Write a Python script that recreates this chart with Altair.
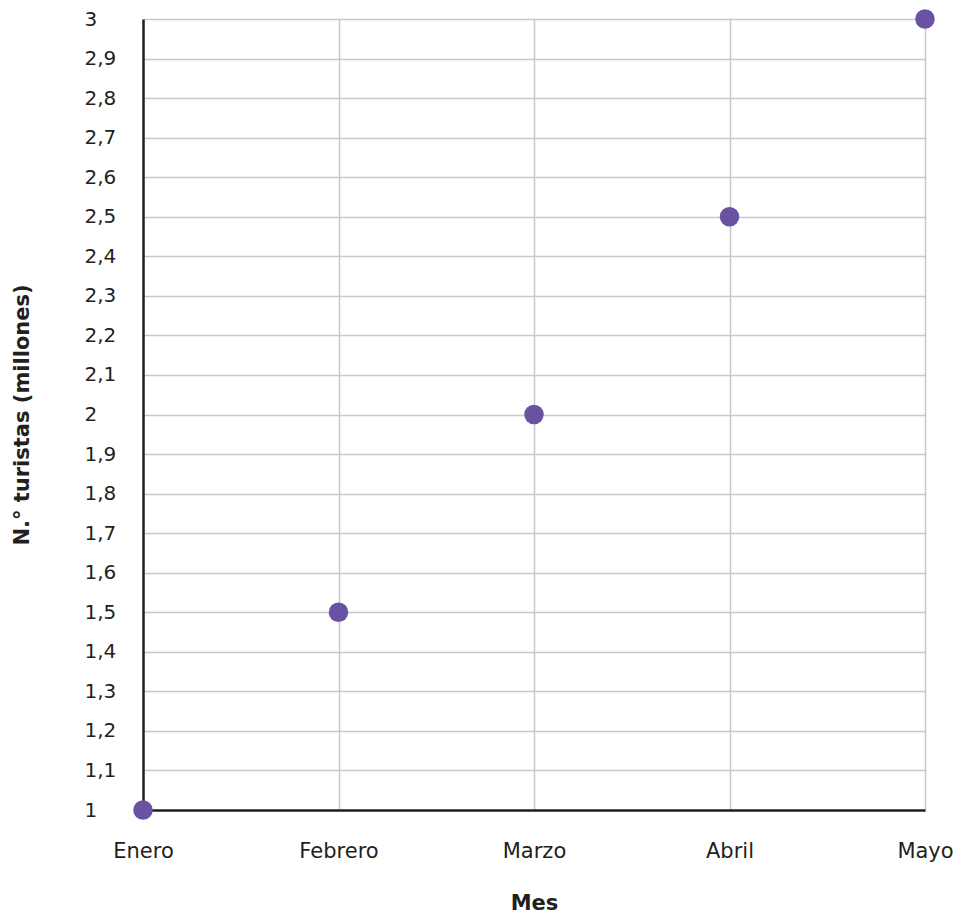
import altair as alt
import pandas as pd

meses = ["Enero", "Febrero", "Marzo", "Abril", "Mayo"]
turistas = [1.0, 1.5, 2.0, 2.5, 3.0]
y_ticks = [1.0, 1.1, 1.2, 1.3, 1.4, 1.5, 1.6, 1.7, 1.8, 1.9, 2.0,
           2.1, 2.2, 2.3, 2.4, 2.5, 2.6, 2.7, 2.8, 2.9, 3.0]

df = pd.DataFrame({"Mes": meses, "Turistas": turistas})

FONT = "DejaVu Sans"
TXT = "#231f20"
H = 791
W = 782

chart = alt.Chart(df).mark_circle(
    size=380, color="#6a52a3", opacity=1, clip=False
).encode(
    x=alt.X("Mes:N", sort=meses,
            scale=alt.Scale(type="point", padding=0),
            axis=alt.Axis(title="Mes", labelAngle=0, ticks=False, tickSize=0,
                          labelPadding=41, labelBaseline="middle",
                          labelFontSize=21, labelFont=FONT, labelColor=TXT,
                          titleFontSize=21, titleFont=FONT, titleColor=TXT,
                          titleFontWeight="bold", titleX=W / 2, titleY=93,
                          titleBaseline="middle",
                          domainColor=TXT, domainWidth=2.5,
                          grid=True, gridColor="#c8c8c8", gridWidth=1.5)),
    y=alt.Y("Turistas:Q",
            scale=alt.Scale(domain=[1, 3], nice=False, zero=False),
            axis=alt.Axis(title="N.° turistas (millones)", values=y_ticks,
                          labelExpr="replace(format(datum.value, '.1~f'), '.', ',')",
                          ticks=False, tickSize=0, labelAlign="left",
                          labelPadding=59, labelBaseline="middle",
                          labelFontSize=20, labelFont=FONT, labelColor=TXT,
                          titleFontSize=21, titleFont=FONT, titleColor=TXT,
                          titleFontWeight="bold", titleAngle=-90,
                          titleX=-121, titleY=H / 2, titleAlign="center",
                          titleBaseline="middle",
                          domainColor=TXT, domainWidth=2.5,
                          grid=True, gridColor="#c8c8c8", gridWidth=1.5)),
).properties(
    width=W, height=H,
    autosize=alt.AutoSizeParams(type="none"),
    padding={"left": 135, "top": 11, "right": 28, "bottom": 104},
).configure_view(
    stroke="#5a5a5a", strokeWidth=1.5
).configure(background="white")

chart.save("out.html", embed_options={"renderer": "svg", "actions": False})
